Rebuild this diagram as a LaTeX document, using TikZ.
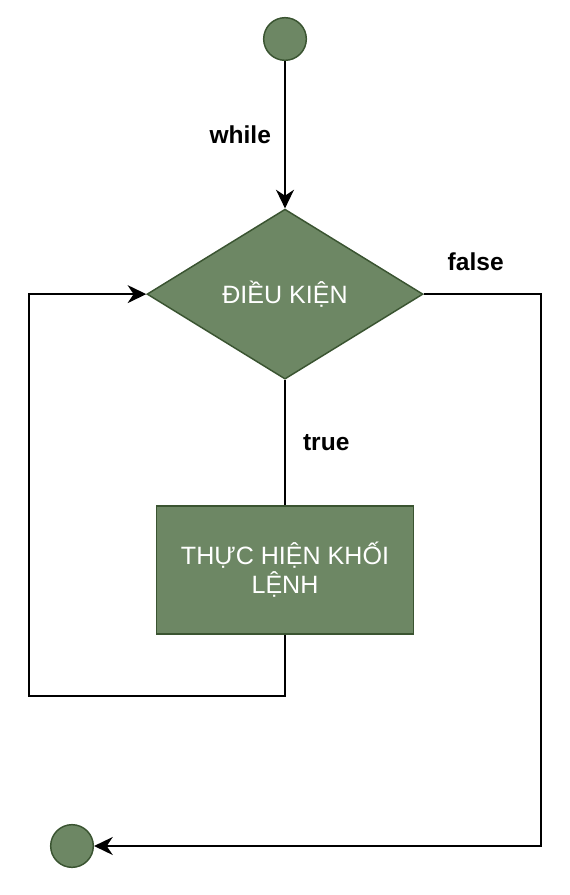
\documentclass[tikz,border=0pt]{standalone}
\usepackage{fontspec}
\setmainfont{Liberation Sans}
\usetikzlibrary{positioning, arrows.meta, shapes.geometric}
\definecolor{sage}{HTML}{6D8764}
\definecolor{sagedark}{HTML}{3A5431}

\begin{document}
\begin{tikzpicture}[
        x=0.75pt, y=-0.75pt,
        termnode/.style={circle, draw=sagedark, line width=1.1pt, fill=sage, minimum size=32pt, inner sep=0pt},
        condbox/.style={diamond, draw=sagedark, line width=1.1pt, fill=sage, minimum width=207pt, minimum height=127.5pt, aspect=1.6, inner sep=0pt, text=white, font=\fontsize{18.8}{22}\selectfont},
        stepbox/.style={rectangle, draw=sagedark, line width=1.1pt, fill=sage, minimum width=192.75pt, minimum height=96pt, align=center, text=white, font=\fontsize{18.8}{21.8}\selectfont},
        lbl/.style={font=\fontsize{18.4}{22}\selectfont\bfseries, inner sep=0pt},
        arr/.style={-{Stealth[length=14pt, width=13.5pt, inset=4.5pt]}, line width=1.1pt},
        plainline/.style={line width=1.1pt},
    ]
        \useasboundingbox (0,0) rectangle (570,895);

        % Start and end points
        \node[termnode] (start) at (285,39) {};
        \node[termnode] (end) at (72,846) {};

        % Condition and loop body
        \node[condbox, below=110.5pt of start] (cond) {ĐIỀU KIỆN};
        \node[stepbox, below=94pt of cond] (body) {THỰC HIỆN KHỐI\\LỆNH};

        % Loop corners
        \coordinate (backL) at (29,696);
        \coordinate (exitR) at (541,846);

        % Arrows
        \draw[arr] (start) -- node[lbl, left=10pt] {while} (cond);
        \draw[plainline] (cond) -- node[lbl, right=13pt] {true} (body);
        \draw[arr] (body.south) |- (backL) |- (cond.west);
        \draw[arr] (cond.east) -| node[lbl, pos=0.25, above=17pt, xshift=-5pt] {false} (exitR) -- (end);
    \end{tikzpicture}
\end{document}
